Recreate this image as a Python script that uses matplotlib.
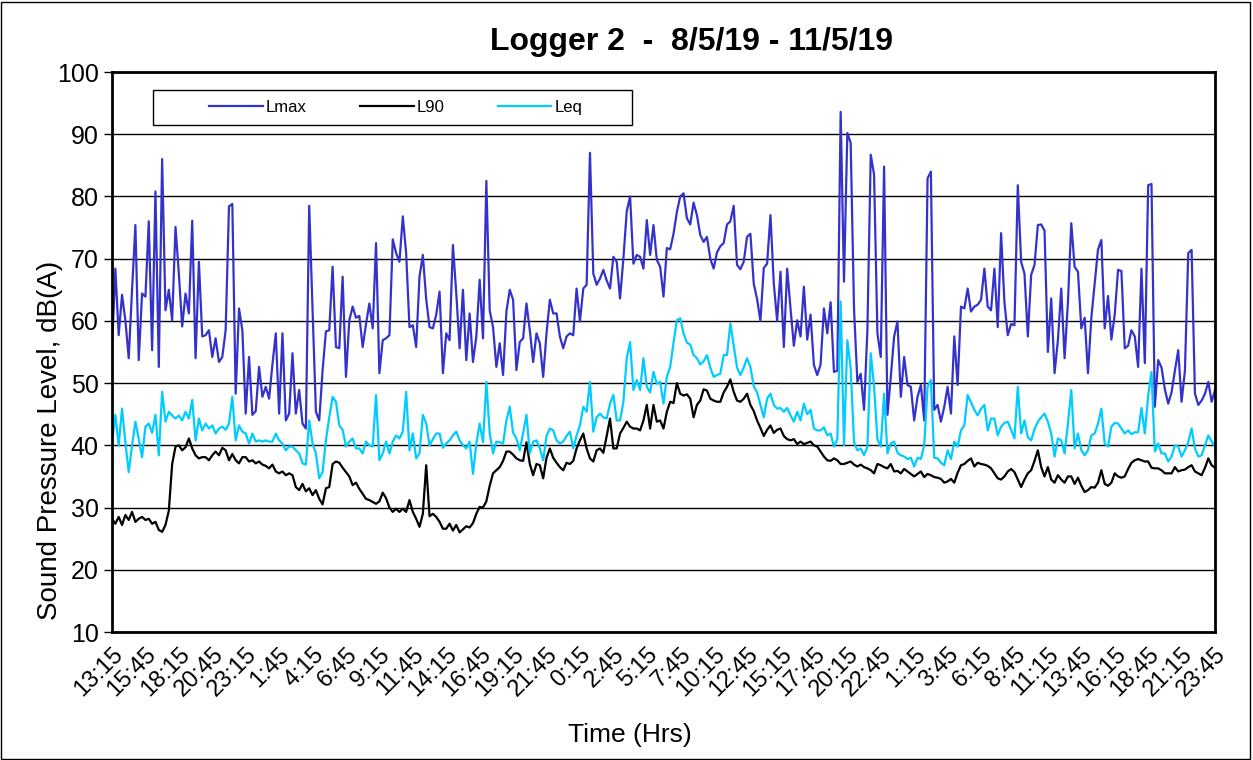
import numpy as np
import pandas as pd
import matplotlib
matplotlib.use('Agg')
import matplotlib.pyplot as plt
from matplotlib.patches import Rectangle

plt.rcParams['font.family'] = ['Liberation Sans', 'DejaVu Sans']

# 15 minute readings, 13:15 on 8/5/19 to 23:45 on 11/5/19
times = pd.date_range('2019-05-08 13:15', '2019-05-11 23:45', freq='15min')

lmax = [55.6, 68.4, 57.7, 64.2, 60.1, 54.0, 65.0, 75.4, 53.7, 64.4, 63.9, 76.0, 55.3, 80.8, 52.6, 86.0, 61.7,
        65.0, 60.1, 75.1, 67.6, 59.1, 64.4, 61.2, 76.1, 54.0, 69.5, 57.5, 57.7, 58.5, 54.2, 57.2, 53.4,
        54.2, 58.5, 78.4, 78.8, 48.3, 62.0, 58.5, 45.1, 54.2, 44.9, 45.5, 52.6, 47.8, 49.4, 47.5, 53.0, 58.0,
        45.1, 58.0, 44.0, 45.1, 54.8, 45.1, 48.9, 43.5, 42.7, 78.5, 62.0, 45.4, 44.0, 52.0, 58.3, 58.5, 68.7,
        55.8, 55.6, 67.1, 51.0, 60.1, 62.3, 60.5, 60.8, 55.8, 59.5, 62.8, 58.8, 72.5, 51.6, 56.9, 57.2, 57.7,
        73.1, 70.9, 69.5, 76.8, 70.9, 59.0, 59.3, 55.8, 67.1, 70.6, 63.5, 59.0, 58.8, 61.0, 64.7, 51.6,
        58.0, 56.9, 72.2, 64.4, 55.6, 65.0, 53.7, 61.2, 53.4, 57.5, 66.6, 57.2, 82.5, 61.7, 59.0, 52.6, 56.4,
        51.3, 61.5, 65.0, 63.4, 52.1, 56.6, 57.2, 62.8, 58.5, 53.4, 58.0, 56.4, 51.0, 58.0, 63.4, 61.2,
        61.2, 57.5, 55.6, 57.5, 58.0, 57.7, 65.2, 59.9, 65.2, 65.8, 87.0, 67.6, 65.8, 66.8, 68.2, 66.5, 65.2,
        70.3, 69.5, 63.6, 70.0, 77.6, 80.0, 69.2, 70.6, 70.3, 68.4, 76.2, 70.6, 75.4, 69.8, 68.7, 63.9, 71.7,
        71.5, 74.0, 77.5, 80.0, 80.5, 76.5, 75.5, 79.0, 77.0, 73.8, 72.7, 73.5, 70.0, 68.4, 71.0, 72.0, 72.5,
        75.5, 76.0, 78.5, 69.0, 68.3, 69.5, 73.5, 74.0, 66.0, 63.5, 60.0, 68.5, 69.2, 77.0, 66.0, 60.0,
        67.9, 55.8, 68.4, 62.0, 56.0, 60.1, 57.5, 65.5, 57.0, 61.0, 52.9, 51.3, 53.0, 62.0, 58.0, 63.0, 51.8,
        52.0, 93.6, 66.3, 90.2, 88.6, 62.0, 50.2, 51.5, 45.7, 58.5, 86.7, 83.5, 58.0, 54.2, 84.8, 44.9,
        51.0, 57.5, 59.9, 47.8, 54.2, 49.7, 49.4, 44.0, 47.8, 49.7, 44.0, 82.9, 84.0, 45.7, 46.5, 43.8, 46.2,
        49.4, 45.1, 57.5, 49.7, 62.3, 62.0, 65.2, 61.5, 62.3, 62.6, 63.4, 68.4, 62.3, 61.7, 68.4, 59.0,
        74.1, 63.0, 57.7, 59.5, 59.3, 81.8, 69.5, 67.6, 57.5, 67.4, 69.0, 75.4, 75.5, 74.5, 55.0, 63.6, 51.6,
        56.9, 65.2, 54.0, 63.0, 75.7, 68.7, 67.9, 58.8, 60.5, 51.6, 60.5, 66.0, 71.5, 73.0, 58.8, 64.0,
        57.0, 61.0, 68.2, 68.0, 55.6, 56.0, 58.5, 57.5, 52.6, 68.4, 53.2, 81.8, 82.0, 46.2, 53.7, 52.5,
        49.0, 46.7, 48.5, 52.0, 55.3, 47.0, 52.0, 70.9, 71.4, 48.3, 46.5, 47.2, 48.3, 50.2, 47.0, 48.9]

l90 = [28.2, 27.4, 28.5, 27.2, 28.8, 28.0, 29.3, 27.7, 28.2, 28.5, 28.0, 28.2, 27.4, 27.7, 26.4, 26.1, 27.2,
       29.5, 37.0, 39.8, 40.0, 39.2, 39.7, 41.1, 39.5, 38.4, 37.9, 38.1, 38.1, 37.6, 38.4, 39.0, 38.4,
       39.6, 39.2, 37.6, 38.6, 37.6, 37.1, 38.1, 38.1, 37.4, 37.6, 37.1, 37.4, 36.9, 36.7, 36.3, 36.9, 35.8,
       35.5, 35.8, 35.2, 35.5, 35.2, 33.3, 32.8, 33.8, 32.6, 33.1, 32.0, 32.8, 31.4, 30.5, 33.1, 33.3, 37.0,
       37.4, 37.2, 36.4, 35.7, 35.0, 33.6, 34.0, 33.0, 32.2, 31.4, 31.2, 30.9, 30.6, 31.0, 32.4, 31.5, 30.0,
       29.3, 29.8, 29.3, 29.8, 29.3, 31.2, 29.3, 28.2, 26.9, 29.0, 36.8, 28.6, 29.0, 28.5, 27.7, 26.6,
       26.6, 27.4, 26.3, 27.2, 26.0, 26.5, 27.0, 26.8, 27.5, 29.0, 30.1, 30.0, 31.0, 33.5, 35.5, 36.0, 36.5,
       37.5, 39.0, 39.0, 38.5, 37.9, 37.6, 37.5, 40.5, 37.0, 35.2, 37.0, 36.8, 34.7, 38.0, 39.5, 38.0,
       37.2, 36.5, 36.0, 37.2, 37.0, 37.5, 39.5, 40.8, 41.9, 39.5, 37.9, 37.4, 39.2, 39.5, 38.8, 41.5, 44.3,
       39.5, 39.5, 41.9, 42.8, 43.8, 43.0, 42.7, 42.7, 42.4, 44.0, 46.5, 42.7, 46.5, 43.8, 44.0, 42.7, 45.4,
       47.0, 46.8, 50.0, 48.3, 48.0, 48.2, 47.5, 44.5, 46.5, 47.2, 49.0, 48.8, 47.5, 47.2, 47.0, 47.0, 48.5,
       49.4, 50.6, 48.6, 47.2, 47.0, 47.5, 48.3, 46.5, 45.5, 44.0, 42.8, 41.5, 42.5, 43.2, 42.0, 42.5,
       42.7, 41.5, 41.0, 40.8, 41.0, 40.2, 40.6, 40.2, 40.4, 40.6, 40.0, 39.8, 39.0, 38.2, 37.6, 37.5, 37.9,
       37.6, 37.0, 37.0, 37.2, 37.4, 36.9, 36.6, 36.9, 36.5, 36.3, 36.0, 35.5, 37.0, 36.8, 36.5, 36.3,
       37.0, 35.8, 35.9, 35.5, 36.2, 35.8, 35.4, 35.0, 35.4, 35.8, 34.9, 35.4, 35.2, 34.9, 34.8, 34.6, 34.0,
       34.2, 34.6, 34.0, 35.6, 36.8, 37.0, 37.5, 37.9, 36.6, 37.2, 37.0, 36.9, 36.7, 36.3, 35.5, 34.7,
       34.5, 35.0, 35.8, 36.2, 35.7, 34.5, 33.3, 34.5, 35.5, 36.0, 37.5, 39.2, 36.5, 35.0, 36.5, 34.5, 34.0,
       35.2, 34.5, 34.0, 35.0, 35.0, 33.8, 34.8, 33.5, 32.5, 32.8, 33.3, 33.2, 34.0, 36.0, 33.8, 33.5,
       34.0, 35.5, 35.0, 34.8, 35.0, 36.2, 37.2, 37.6, 37.8, 37.6, 37.4, 37.4, 36.4, 36.3, 36.3, 36.0,
       35.5, 35.5, 35.5, 36.5, 35.8, 36.0, 36.1, 36.5, 36.8, 35.8, 35.5, 35.2, 36.4, 37.9, 36.8, 36.4]

leq = [40.6, 44.9, 40.0, 45.9, 40.5, 35.7, 40.0, 43.8, 41.0, 38.1, 43.0, 43.5, 42.0, 44.9, 38.4, 48.6, 43.8,
       45.4, 44.8, 44.3, 44.8, 44.0, 45.4, 44.3, 47.3, 40.8, 44.3, 42.4, 43.5, 42.7, 43.2, 41.9, 42.7,
       43.0, 42.5, 43.5, 47.8, 40.8, 43.2, 42.2, 41.9, 40.3, 41.9, 40.6, 40.8, 40.6, 40.8, 40.6, 40.6, 41.9,
       40.8, 40.3, 39.2, 39.8, 39.8, 39.2, 38.7, 37.1, 36.9, 44.0, 40.3, 38.7, 34.7, 35.7, 40.8, 44.5, 47.8,
       47.0, 43.2, 42.5, 39.8, 40.6, 41.1, 39.5, 39.5, 38.7, 40.6, 40.0, 39.8, 48.1, 37.6, 38.7, 40.6, 38.7,
       40.6, 41.6, 41.1, 42.2, 48.6, 39.2, 41.9, 37.9, 38.7, 44.9, 43.5, 40.0, 41.0, 41.9, 41.9, 39.6,
       40.3, 40.8, 41.6, 42.2, 40.8, 40.0, 39.5, 40.6, 35.4, 40.3, 43.5, 40.5, 50.2, 42.0, 38.7, 40.6, 40.5,
       40.3, 44.0, 46.2, 42.0, 41.1, 39.2, 42.0, 44.9, 38.7, 40.6, 40.8, 39.5, 37.6, 41.5, 42.7, 42.4,
       40.8, 40.3, 40.6, 41.5, 42.2, 39.5, 41.6, 43.2, 46.2, 45.4, 50.2, 42.2, 44.5, 45.1, 44.5, 44.3, 46.7,
       48.1, 44.0, 44.0, 47.0, 54.0, 56.6, 48.9, 50.5, 48.9, 54.0, 49.4, 48.5, 51.8, 49.9, 50.2, 46.7, 51.0,
       52.6, 56.5, 60.1, 60.4, 58.0, 56.5, 56.2, 54.5, 54.0, 53.0, 53.5, 54.5, 52.5, 51.0, 51.3, 51.5, 54.5,
       54.5, 59.6, 56.0, 52.5, 51.3, 52.5, 54.0, 52.6, 49.5, 48.5, 46.5, 44.5, 47.5, 48.3, 46.5, 45.9,
       46.0, 45.4, 46.0, 44.8, 43.8, 45.4, 44.0, 46.7, 45.0, 45.7, 42.7, 42.4, 42.4, 42.9, 41.6, 41.9, 39.8,
       41.0, 63.1, 40.0, 56.9, 52.4, 40.5, 39.2, 39.5, 38.4, 39.8, 54.8, 49.5, 41.0, 39.8, 48.3, 38.7,
       40.3, 40.6, 38.8, 38.4, 38.2, 37.8, 38.0, 36.6, 38.0, 37.8, 40.0, 49.4, 50.5, 38.0, 37.9, 37.2, 36.8,
       39.2, 37.8, 40.6, 39.8, 42.4, 43.2, 48.1, 46.9, 45.7, 44.8, 45.9, 46.5, 42.4, 44.3, 44.3, 41.6,
       43.0, 43.6, 43.8, 42.5, 41.1, 49.4, 41.9, 44.0, 41.3, 40.8, 42.6, 43.8, 44.5, 45.1, 43.8, 41.9, 38.2,
       41.1, 40.8, 38.7, 43.5, 48.9, 39.5, 41.9, 39.2, 38.4, 39.2, 41.6, 41.9, 43.5, 45.9, 40.3, 39.8,
       43.0, 43.6, 43.5, 42.7, 41.9, 42.4, 41.8, 42.1, 42.1, 46.0, 41.9, 48.0, 51.8, 39.0, 40.3, 38.7,
       38.7, 37.4, 38.2, 40.0, 39.8, 38.2, 39.2, 40.5, 42.7, 39.5, 38.2, 38.4, 40.0, 41.6, 40.6, 39.8]

fig = plt.figure(figsize=(12.53, 7.6), dpi=100)
ax = fig.add_axes([112 / 1253, 1 - 632 / 760, 1103 / 1253, 560 / 760])

ax.plot(np.arange(len(lmax)), lmax, color='#3333CC', lw=1.6, label='Lmax')
ax.plot(np.arange(len(l90)), l90, color='black', lw=1.6, label='L90')
ax.plot(np.arange(len(leq)), leq, color='#00CCFF', lw=1.6, label='Leq')

ax.set_xlim(0, len(times) - 1)
ax.set_ylim(10, 100)
ax.set_yticks(range(10, 101, 10))
ticks = list(range(0, len(times), 10))
ax.set_xticks(ticks)
ax.set_xticklabels([f'{times[i].hour}:{times[i].minute:02d}' for i in ticks],
                   rotation=45, ha='right', rotation_mode='anchor', fontsize=17)
ax.tick_params(axis='y', labelsize=18, length=6, width=1, direction='out')
ax.tick_params(axis='x', length=0, pad=8)
ax.grid(axis='y', color='black', lw=1)
for s in ax.spines.values():
    s.set_linewidth(2)

# legend box drawn separately so the entries sit centred with wide side margins
ax.add_patch(Rectangle((0.0372, 0.9054), 0.4342, 0.0625, transform=ax.transAxes,
                       facecolor='white', edgecolor='black', lw=1, zorder=3))
leg = ax.legend(loc='center', ncol=3, bbox_to_anchor=(0.2575, 0.9366), fontsize=12, frameon=False,
                handlelength=3.2, handletextpad=0.2, columnspacing=3.2, borderaxespad=0)
leg.set_zorder(4)

fig.text(691 / 1253, 1 - 42 / 760, 'Logger 2  -  8/5/19 - 11/5/19', ha='center', va='center',
         fontsize=23, fontweight='bold')
fig.text(50 / 1253, 1 - 440 / 760, 'Sound Pressure Level, dB(A)', rotation=90, ha='center', va='center',
         fontsize=20)
fig.text(630 / 1253, 1 - 735 / 760, 'Time (Hrs)', ha='center', va='center', fontsize=19)

fig.patches.append(Rectangle((0.001, 0.001), 0.997, 0.997, transform=fig.transFigure,
                             fill=False, edgecolor='black', lw=1))

fig.savefig('out.png', dpi=100)
